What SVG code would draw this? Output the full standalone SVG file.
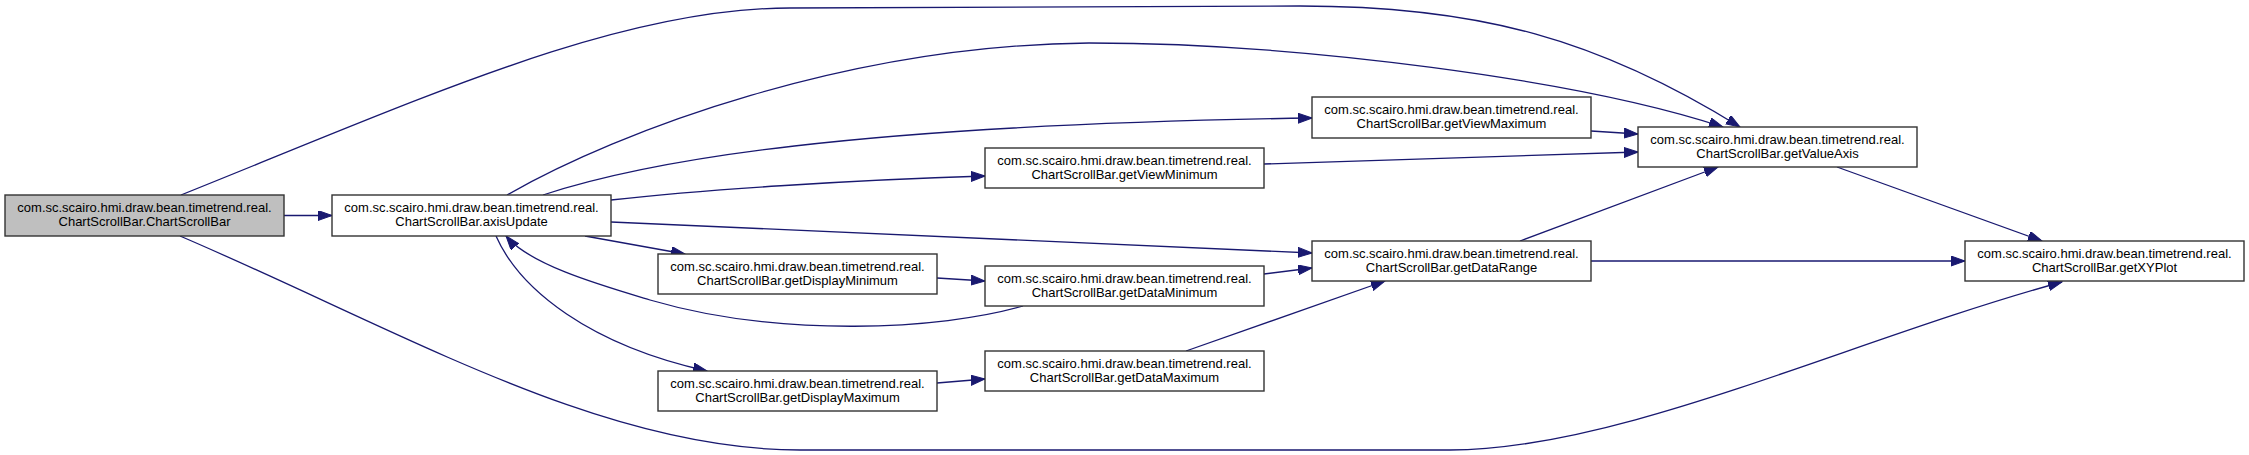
<svg xmlns="http://www.w3.org/2000/svg" width="2249" height="455" viewBox="0 0 2249 455">
<style>
.node rect{fill:#ffffff;stroke:#333333;stroke-width:1.4}
.node.main rect{fill:#bfbfbf}
.node text{font-family:"Liberation Sans",Arial,sans-serif;font-size:13px;fill:#000;text-anchor:middle}
.edges path{fill:none;stroke:#191970;stroke-width:1.3;marker-end:url(#arr)}
</style>
<defs>
<marker id="arr" markerUnits="userSpaceOnUse" markerWidth="15" markerHeight="11" refX="14" refY="5" orient="auto">
<path d="M0,0 L14,5 L0,10 z" fill="#191970" stroke="#191970" stroke-width="1"/>
</marker>
</defs>
<rect width="2249" height="455" fill="#ffffff"/>
<g class="edges" id="edges">
<path d="M284,215.5 L332,215.5"/>
<path d="M181,195 C430,95 620,8 790,8 L1300,6 C1480,6 1600,40 1740,127"/>
<path d="M180,236 C400,330 600,450 800,450 L1450,450 C1620,450 1850,340 2062,282"/>
<path d="M507,195 C620,130 850,45 1089,43 C1300,43 1580,80 1723,127"/>
<path d="M543,195 C650,160 850,125 1312,118"/>
<path d="M611,200 C700,190 850,180 985,176"/>
<path d="M611,222 L1312,253"/>
<path d="M585,236 L685,254"/>
<path d="M496,236 C520,290 590,345 707,371"/>
<path d="M1023,306 C940,330 780,338 650,300 C600,285 530,265 506,236"/>
<path d="M1591,131 L1638,134"/>
<path d="M1264,164 L1638,152"/>
<path d="M1520,241 L1718,167"/>
<path d="M1837,167 L2042,241"/>
<path d="M1591,261 L1965,261"/>
<path d="M937,278 L985,281"/>
<path d="M1264,274 L1312,268"/>
<path d="M1186,351 L1385,281"/>
<path d="M937,383 L985,379"/>
</g>
<g class="node main" id="node_ChartScrollBar">
<rect x="5" y="195" width="279" height="41"/>
<text x="144.5" y="212.2">com.sc.scairo.hmi.draw.bean.timetrend.real.</text>
<text x="144.5" y="226.2">ChartScrollBar.ChartScrollBar</text>
</g>
<g class="node" id="node_axisUpdate">
<rect x="332" y="195" width="279" height="41"/>
<text x="471.5" y="212.2">com.sc.scairo.hmi.draw.bean.timetrend.real.</text>
<text x="471.5" y="226.2">ChartScrollBar.axisUpdate</text>
</g>
<g class="node" id="node_getViewMaximum">
<rect x="1312" y="97" width="279" height="41"/>
<text x="1451.5" y="114.2">com.sc.scairo.hmi.draw.bean.timetrend.real.</text>
<text x="1451.5" y="128.2">ChartScrollBar.getViewMaximum</text>
</g>
<g class="node" id="node_getViewMinimum">
<rect x="985" y="148" width="279" height="40"/>
<text x="1124.5" y="164.7">com.sc.scairo.hmi.draw.bean.timetrend.real.</text>
<text x="1124.5" y="178.7">ChartScrollBar.getViewMinimum</text>
</g>
<g class="node" id="node_getValueAxis">
<rect x="1638" y="127" width="279" height="40"/>
<text x="1777.5" y="143.7">com.sc.scairo.hmi.draw.bean.timetrend.real.</text>
<text x="1777.5" y="157.7">ChartScrollBar.getValueAxis</text>
</g>
<g class="node" id="node_getDisplayMinimum">
<rect x="658" y="254" width="279" height="40"/>
<text x="797.5" y="270.7">com.sc.scairo.hmi.draw.bean.timetrend.real.</text>
<text x="797.5" y="284.7">ChartScrollBar.getDisplayMinimum</text>
</g>
<g class="node" id="node_getDataMinimum">
<rect x="985" y="266" width="279" height="40"/>
<text x="1124.5" y="282.7">com.sc.scairo.hmi.draw.bean.timetrend.real.</text>
<text x="1124.5" y="296.7">ChartScrollBar.getDataMinimum</text>
</g>
<g class="node" id="node_getDataRange">
<rect x="1312" y="241" width="279" height="40"/>
<text x="1451.5" y="257.7">com.sc.scairo.hmi.draw.bean.timetrend.real.</text>
<text x="1451.5" y="271.7">ChartScrollBar.getDataRange</text>
</g>
<g class="node" id="node_getDisplayMaximum">
<rect x="658" y="371" width="279" height="40"/>
<text x="797.5" y="387.7">com.sc.scairo.hmi.draw.bean.timetrend.real.</text>
<text x="797.5" y="401.7">ChartScrollBar.getDisplayMaximum</text>
</g>
<g class="node" id="node_getDataMaximum">
<rect x="985" y="351" width="279" height="40"/>
<text x="1124.5" y="367.7">com.sc.scairo.hmi.draw.bean.timetrend.real.</text>
<text x="1124.5" y="381.7">ChartScrollBar.getDataMaximum</text>
</g>
<g class="node" id="node_getXYPlot">
<rect x="1965" y="241" width="279" height="40"/>
<text x="2104.5" y="257.7">com.sc.scairo.hmi.draw.bean.timetrend.real.</text>
<text x="2104.5" y="271.7">ChartScrollBar.getXYPlot</text>
</g>
</svg>
